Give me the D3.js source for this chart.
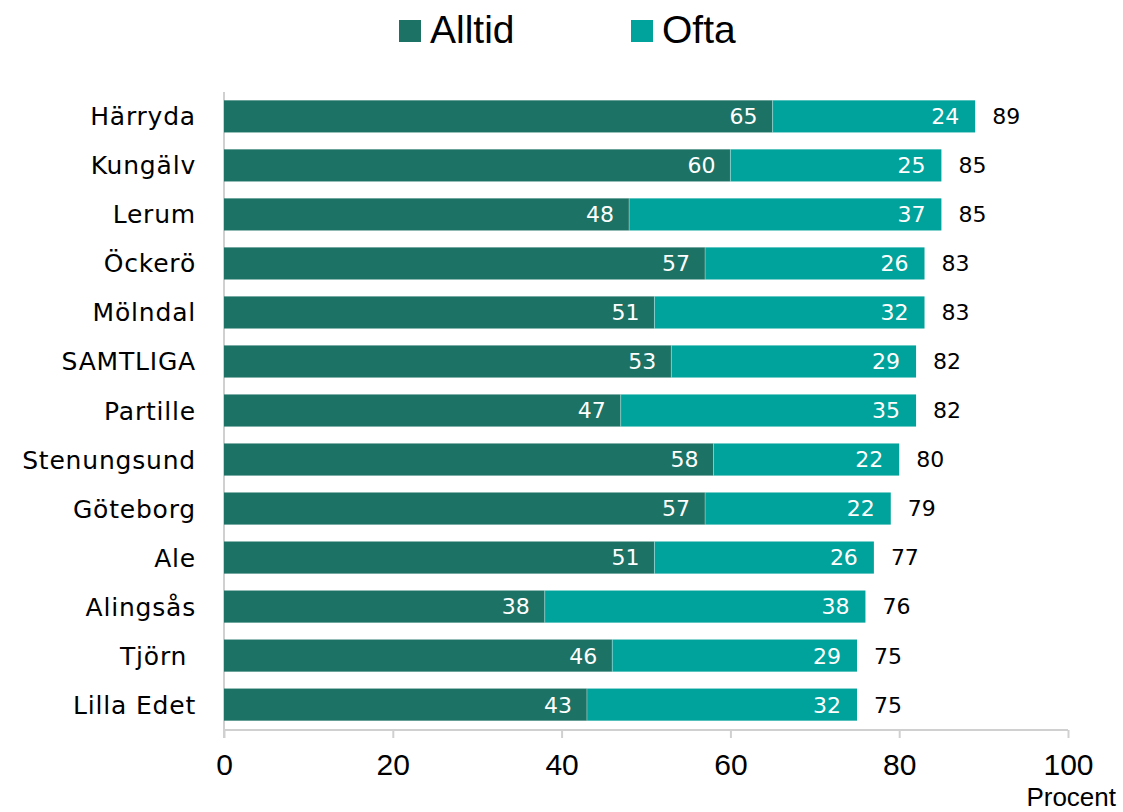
<!DOCTYPE html>
<html><head><meta charset="utf-8">
<script src="https://cdn.jsdelivr.net/npm/d3@7"></script>
<style>body{margin:0;background:#fff}svg{display:block}</style>
</head><body><svg id="c" width="1123" height="812"></svg>
<script>
const categories = ["Härryda","Kungälv","Lerum","Öckerö","Mölndal","SAMTLIGA","Partille","Stenungsund","Göteborg","Ale","Alingsås","Tjörn ","Lilla Edet"];
const alltid = [65,60,48,57,51,53,47,58,57,51,38,46,43];
const ofta = [24,25,37,26,32,29,35,22,22,26,38,29,32];
const totals = [89,85,85,83,83,82,82,80,79,77,76,75,75];
const seriesNames = ["Alltid","Ofta"];
const colors = ["#1c7265","#00a39b"];
const ticks = [0,20,40,60,80,100];

const svg = d3.select("#c");
const x = d3.scaleLinear().domain([0,100]).range([224,1068]);
const y = d3.scaleBand().domain(categories).range([92,729]).paddingInner(0.345).paddingOuter(0.17);
const sansFont = "'Liberation Sans', Arial, sans-serif";
const wideFont = "'DejaVu Sans', Verdana, sans-serif";

// axis
const ax = svg.append("g").attr("transform","translate(0,730)")
  .call(d3.axisBottom(x).tickValues(ticks).tickSize(8).tickPadding(16).tickFormat(d3.format("d")));
ax.select(".domain").attr("stroke","#d0d0d0").attr("stroke-width",2).attr("d","M224,0H1068");
ax.selectAll(".tick line").attr("stroke","#d0d0d0").attr("stroke-width",2);
ax.selectAll(".tick text").attr("fill","#000").style("font-family",sansFont).style("font-size","30px");
svg.append("line").attr("x1",224).attr("x2",224).attr("y1",92).attr("y2",738).attr("stroke","#d0d0d0").attr("stroke-width",2);
svg.append("text").attr("x",1116).attr("y",806).attr("text-anchor","end").style("font-family",sansFont).style("font-size","26px").text("Procent");

const rows = categories.map((c,i)=>({c,a:alltid[i],o:ofta[i],t:totals[i]}));
const g = svg.append("g");
rows.forEach(r=>{
  const yy = y(r.c), h = y.bandwidth();
  g.append("rect").attr("x",x(0)).attr("y",yy).attr("width",x(r.a)-x(0)).attr("height",h).attr("fill",colors[0]);
  g.append("rect").attr("x",x(r.a)).attr("y",yy).attr("width",x(r.a+r.o)-x(r.a)).attr("height",h).attr("fill",colors[1]);
  g.append("line").attr("x1",x(r.a)).attr("x2",x(r.a)).attr("y1",yy).attr("y2",yy+h).attr("stroke","#ffffff").attr("stroke-opacity",0.35).attr("stroke-width",1);
  g.append("text").attr("x",x(r.a)-15).attr("y",yy+h/2).attr("dy","0.36em").attr("text-anchor","end").attr("fill","#fff").style("font-family",wideFont).style("font-size","22px").text(r.a);
  g.append("text").attr("x",x(r.a+r.o)-16).attr("y",yy+h/2).attr("dy","0.36em").attr("text-anchor","end").attr("fill","#fff").style("font-family",wideFont).style("font-size","22px").text(r.o);
  g.append("text").attr("x",x(r.a+r.o)+17).attr("y",yy+h/2).attr("dy","0.36em").attr("fill","#000").style("font-family",wideFont).style("font-size","22px").text(r.t);
  g.append("text").attr("x",196).attr("y",yy+h/2).attr("dy","0.36em").attr("text-anchor","end").attr("fill","#000").style("font-family",wideFont).style("font-size","25px").style("letter-spacing","0.8px").attr("xml:space","preserve").text(r.c);
});

// legend
const legX = [399,631];
seriesNames.forEach((s,i)=>{
  svg.append("rect").attr("x",legX[i]).attr("y",20).attr("width",22).attr("height",22).attr("fill",colors[i]);
  svg.append("text").attr("x",legX[i]+31).attr("y",43).style("font-family",sansFont).style("font-size","39px").attr("fill","#000").text(s);
});
</script></body></html>
